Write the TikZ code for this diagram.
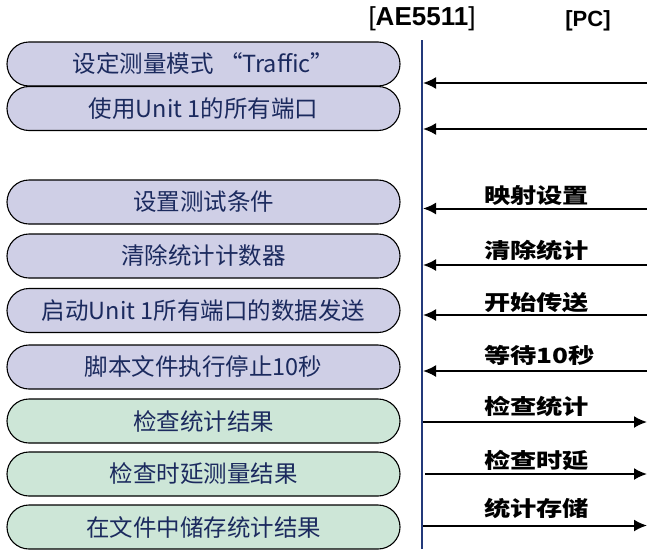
\documentclass[tikz,border=0pt]{standalone}
\usepackage{fontspec}
\usepackage{graphicx}
\usetikzlibrary{arrows.meta}
\setmainfont{Liberation Sans}
\newfontfamily\cjk{Noto Sans CJK SC}
\newfontfamily\cjkb[FakeStretch=1.25]{Noto Sans CJK SC}
\definecolor{lav}{HTML}{CFCFE6}
\definecolor{mint}{HTML}{CDE6D7}
\definecolor{navy}{HTML}{1B2A5E}
\definecolor{axis}{HTML}{23397A}
\begin{document}
\begin{tikzpicture}[x=1pt,y=-1pt,
  pill/.style={draw=black, line width=1.1pt, rounded corners=22pt,
    minimum width=393pt, minimum height=44pt, inner sep=0pt, text=navy,
    font=\cjk\fontsize{23.5}{26}\selectfont},
  pl/.style={pill, fill=lav},
  pg/.style={pill, fill=mint},
  lab/.style={anchor=base west, inner sep=0pt, text=black,
    font=\cjkb\bfseries\fontsize{21}{24}\selectfont},
  axisline/.style={draw=axis, line width=2pt},
  msg/.style={draw=black, line width=2pt, -{Latex[length=13pt,width=12pt]}}
]
\useasboundingbox (0,0) rectangle (647,549);
% headers
\node[inner sep=0pt, font=\fontsize{26}{28}\selectfont] (hae) at (422,19) {{[}\textbf{AE5511}{]}};
\node[inner sep=0pt, font=\bfseries\fontsize{22}{24}\selectfont] (hpc) at (588,21) {[PC]};
% lifeline
\coordinate (ltop) at (422,40);
\coordinate (lbot) at (422,549);
\draw[axisline] (ltop) -- (lbot);
% boxes
\node[pl] (b1) at (203.5,64) {设定测量模式 “Traffic”};
\node[pl] (b2) at (203.5,108.5) {使用Unit 1的所有端口};
\node[pl] (b3) at (203.5,202) {设置测试条件};
\node[pl] (b4) at (203.5,256) {清除统计计数器};
\node[pl] (b5) at (203.5,310.5) {启动Unit 1所有端口的数据发送};
\node[pl] (b6) at (203.5,367) {脚本文件执行停止10秒};
\node[pg] (b7) at (203.5,421) {检查统计结果};
\node[pg] (b8) at (203.5,474) {检查时延测量结果};
\node[pg] (b9) at (203.5,527) {在文件中储存统计结果};
% arrow end points
\coordinate (p1) at (647,83);  \coordinate (a1) at (423,83);
\coordinate (p2) at (647,129); \coordinate (a2) at (423,129);
\coordinate (p3) at (647,208.5); \coordinate (a3) at (423,208.5);
\coordinate (p4) at (647,265); \coordinate (a4) at (423,265);
\coordinate (p5) at (647,315); \coordinate (a5) at (423,315);
\coordinate (p6) at (647,371); \coordinate (a6) at (423,371);
\coordinate (a7) at (423,422); \coordinate (p7) at (647,422);
\coordinate (a8) at (425,474); \coordinate (p8) at (647,474);
\coordinate (a9) at (423,525.5); \coordinate (p9) at (647,525.5);
\draw[msg] (p1) -- (a1);
\draw[msg] (p2) -- (a2);
\draw[msg] (p3) -- (a3);
\draw[msg] (p4) -- (a4);
\draw[msg] (p5) -- (a5);
\draw[msg] (p6) -- (a6);
\draw[msg] (a7) -- (p7);
\draw[msg] (a8) -- (p8);
\draw[msg] (a9) -- (p9);
% labels
\node[lab] (l3) at (484,203) {映射设置};
\node[lab] (l4) at (484,258) {清除统计};
\node[lab] (l5) at (484,310) {开始传送};
\node[lab] (l6) at (484,363) {等待10秒};
\node[lab] (l7) at (484,414) {检查统计};
\node[lab] (l8) at (484,468) {检查时延};
\node[lab] (l9) at (484,516) {统计存储};
\end{tikzpicture}
\end{document}
